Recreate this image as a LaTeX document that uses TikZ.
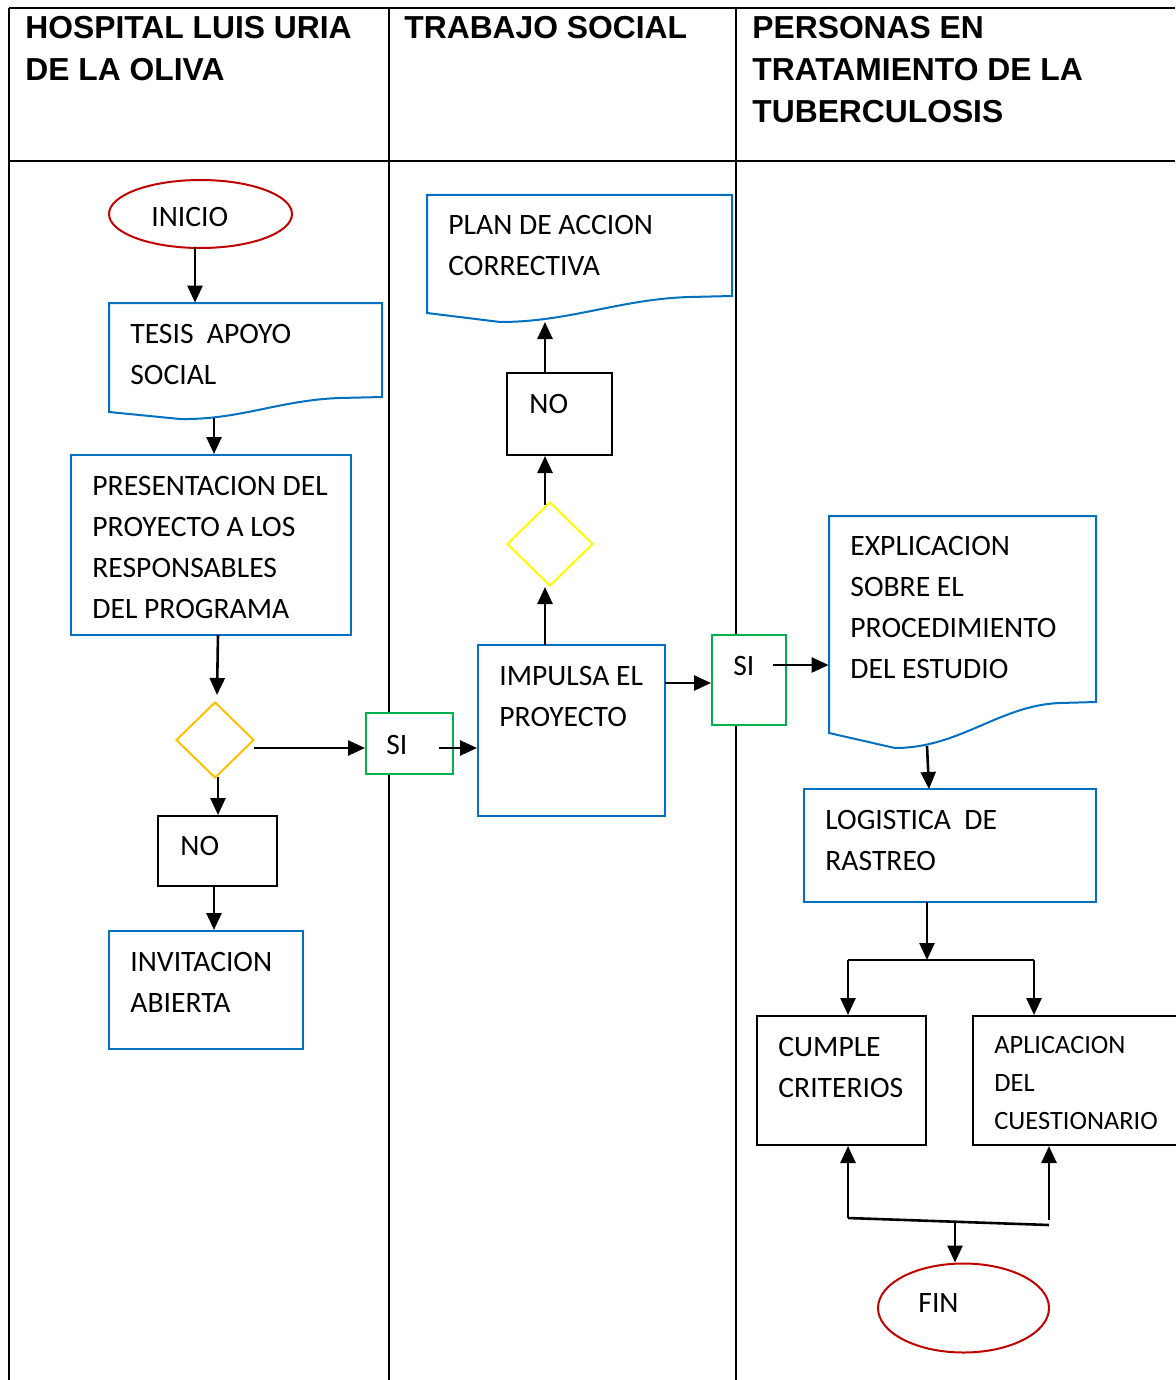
\documentclass[tikz,border=0pt]{standalone}
\usepackage{fontspec}
\setmainfont{Carlito}
\newfontfamily\hdrfont{Liberation Sans}
\usetikzlibrary{arrows.meta,shapes.geometric,fit}
\definecolor{boxblue}{RGB}{0,112,192}
\definecolor{termred}{RGB}{192,0,0}
\definecolor{sigreen}{RGB}{0,176,80}
\definecolor{dorange}{RGB}{255,192,0}
\definecolor{dyellow}{RGB}{255,255,0}
\begin{document}
\begin{tikzpicture}[x=0.5pt,y=-0.5pt,
  gridline/.style={line width=1.2pt,black},
  bluebox/.style={draw=boxblue,fill=white,line width=1pt,rectangle,inner sep=0pt},
  blackbox/.style={draw=black,fill=white,line width=1pt,rectangle,inner sep=0pt},
  greenbox/.style={draw=sigreen,fill=white,line width=1pt,rectangle,inner sep=0pt},
  docline/.style={draw=boxblue,line width=1pt},
  docarea/.style={rectangle,inner sep=0pt},
  termbox/.style={draw=termred,line width=1pt,ellipse,inner sep=0pt,fill=white},
  decbox/.style={diamond,inner sep=0pt,line width=1pt,fill=white},
  txt/.style={anchor=north west,inner sep=0pt,align=left,font=\fontsize{14.8pt}{20.5pt}\selectfont},
  smalltxt/.style={anchor=north west,inner sep=0pt,align=left,font=\fontsize{13.2pt}{19pt}\selectfont},
  hdr/.style={anchor=north west,inner sep=0pt,align=left,font=\hdrfont\bfseries\fontsize{15.9pt}{21pt}\selectfont},
  arr/.style={line width=1.3pt,-{Triangle[length=8.5pt,width=7.5pt]}},
  conn/.style={line width=1.3pt}
]
\useasboundingbox (0,0) rectangle (1175,1380);
\fill[white] (0,0) rectangle (1175,1380);

% table grid
\draw[gridline] (9,8) -- (1175,8);
\draw[gridline] (9,161) -- (1175,161);
\draw[gridline] (9,8) -- (9,1380);
\draw[gridline] (389,8) -- (389,1380);
\draw[gridline] (736,8) -- (736,1380);

% headers
\node[hdr] (h1) at (25,15.5) {HOSPITAL LUIS URIA\\DE LA OLIVA};
\node[hdr] (h2) at (404,15.5) {TRABAJO SOCIAL};
\node[hdr] (h3) at (752,15.5) {PERSONAS EN\\TRATAMIENTO DE LA\\TUBERCULOSIS};

% ---------- column 1 ----------
\node[termbox,minimum width=91.5pt,minimum height=34pt] (inicio) at (200.5,214) {};
\node[txt] (t-inicio) at (151,206.5) {INICIO};
\coordinate (inicio-out) at (195,247);

\node[docarea,fit={(109,303) (382,420)}] (tesis) {};
\draw[docline] (109,412) -- (109,303) -- (382,303) -- (382,397) -- (340,398)
  .. controls (280,400) and (240,420) .. (180,419) -- cycle;
\node[txt] (t-tesis) at (130,323.5) {TESIS\ \ APOYO\\SOCIAL};
\coordinate (tesis-out) at (214,418);

\node[bluebox,fit={(71,455) (351,635)}] (pres) {};
\node[txt] (t-pres) at (92,475.5) {PRESENTACION DEL\\PROYECTO A LOS\\RESPONSABLES\\DEL PROGRAMA};
\coordinate (pres-out) at (218,635);
\coordinate (dec1-in) at (217,695);

\node[decbox,draw=dorange,minimum width=39pt,minimum height=38pt] (dec1) at (215,740) {};
\coordinate (dec1-r) at (254,748);
\coordinate (dec1-out) at (218,777);

\node[greenbox,fit={(366,713) (453,774)}] (si1) {};
\node[txt] (t-si1) at (386,734.5) {SI};
\coordinate (si1-out) at (439,748);

\node[blackbox,fit={(158,816) (277,886)}] (no1) {};
\node[txt] (t-no1) at (180,835.5) {NO};
\coordinate (no1-out) at (214,886);

\node[bluebox,fit={(109,931) (303,1049)}] (invit) {};
\node[txt] (t-invit) at (130,951.5) {INVITACION\\ABIERTA};

% ---------- column 2 ----------
\node[docarea,fit={(427,195) (732,322)}] (plan) {};
\draw[docline] (427,313) -- (427,195) -- (732,195) -- (732,296) -- (690,297)
  .. controls (620,299) and (570,322) .. (500,322) -- cycle;
\node[txt] (t-plan) at (448,214.5) {PLAN DE ACCION\\CORRECTIVA};
\coordinate (plan-in) at (545,322);

\node[blackbox,fit={(507,373) (612,455)}] (no2) {};
\node[txt] (t-no2) at (529,393.5) {NO};
\coordinate (no2-out) at (545,373);

\node[decbox,draw=dyellow,minimum width=43pt,minimum height=42pt] (dec2) at (550,544) {};
\coordinate (dec2-out) at (545,505);

\node[bluebox,fit={(478,645) (665,816)}] (impulsa) {};
\node[txt] (t-impulsa) at (499,665.5) {IMPULSA EL\\PROYECTO};
\coordinate (impulsa-top) at (545,645);
\coordinate (impulsa-r) at (665,683);

\node[greenbox,fit={(712,635) (786,725)}] (si2) {};
\node[txt] (t-si2) at (733,655.5) {SI};
\coordinate (si2-out) at (773,665);

% ---------- column 3 ----------
\node[docarea,fit={(829,516) (1096,748)}] (expl) {};
\draw[docline] (829,733) -- (829,516) -- (1096,516) -- (1096,702) -- (1060,703)
  .. controls (1000,705) and (960,748) .. (895,748) -- cycle;
\node[txt] (t-expl) at (850,535.5) {EXPLICACION\\SOBRE EL\\PROCEDIMIENTO\\DEL ESTUDIO};
\coordinate (expl-out) at (927,746);
\coordinate (logis-in) at (929,789);

\node[bluebox,fit={(804,789) (1096,902)}] (logis) {};
\node[txt] (t-logis) at (825,809.5) {LOGISTICA\ \ DE\\RASTREO};
\coordinate (logis-out) at (927,902);
\coordinate (split) at (927,960);
\coordinate (splitl) at (848,960);
\coordinate (splitr) at (1034,960);

\node[blackbox,fit={(757,1016) (926,1145)}] (cumple) {};
\node[txt] (t-cumple) at (778,1036.5) {CUMPLE\\CRITERIOS};

\node[blackbox,fit={(973,1016) (1185,1145)}] (aplic) {};
\node[smalltxt] (t-aplic) at (994,1035.5) {APLICACION\\DEL\\CUESTIONARIO};

\coordinate (joinl) at (848,1218);
\coordinate (joinr) at (1049,1225);
\coordinate (joinrt) at (1049,1220);
\coordinate (joinm) at (955,1222);

\node[termbox,minimum width=85.5pt,minimum height=44.5pt] (fin) at (963.5,1308) {};
\node[txt] (t-fin) at (918,1293.5) {FIN};

% ---------- connectors ----------
\draw[arr] (inicio-out) -- (inicio-out |- tesis.north);
\draw[arr] (tesis-out) -- (tesis-out |- pres.north);
\draw[arr] (pres-out) -- (dec1-in);
\draw[arr] (dec1-r) -- (dec1-r -| si1.west);
\draw[arr] (si1-out) -- (si1-out -| impulsa.west);
\draw[arr] (dec1-out) -- (dec1-out |- no1.north);
\draw[arr] (no1-out) -- (no1-out |- invit.north);

\draw[arr] (impulsa-top) -- (impulsa-top |- dec2.south);
\draw[arr] (dec2-out) -- (dec2-out |- no2.south);
\draw[arr] (no2-out) -- (plan-in);
\draw[arr] (impulsa-r) -- (impulsa-r -| si2.west);
\draw[arr] (si2-out) -- (si2-out -| expl.west);

\draw[arr] (expl-out) -- (logis-in);
\draw[arr] (logis-out) -- (split);
\draw[conn] (splitl) -- (splitr);
\draw[arr] (splitl) -- (splitl |- cumple.north);
\draw[arr] (splitr) -- (splitr |- aplic.north);
\draw[conn] (joinl) -- (joinr);
\draw[arr] (joinl) -- (joinl |- cumple.south);
\draw[arr] (joinrt) -- (joinrt |- aplic.south);
\draw[arr] (joinm) -- (joinm |- fin.north);
\end{tikzpicture}
\end{document}
